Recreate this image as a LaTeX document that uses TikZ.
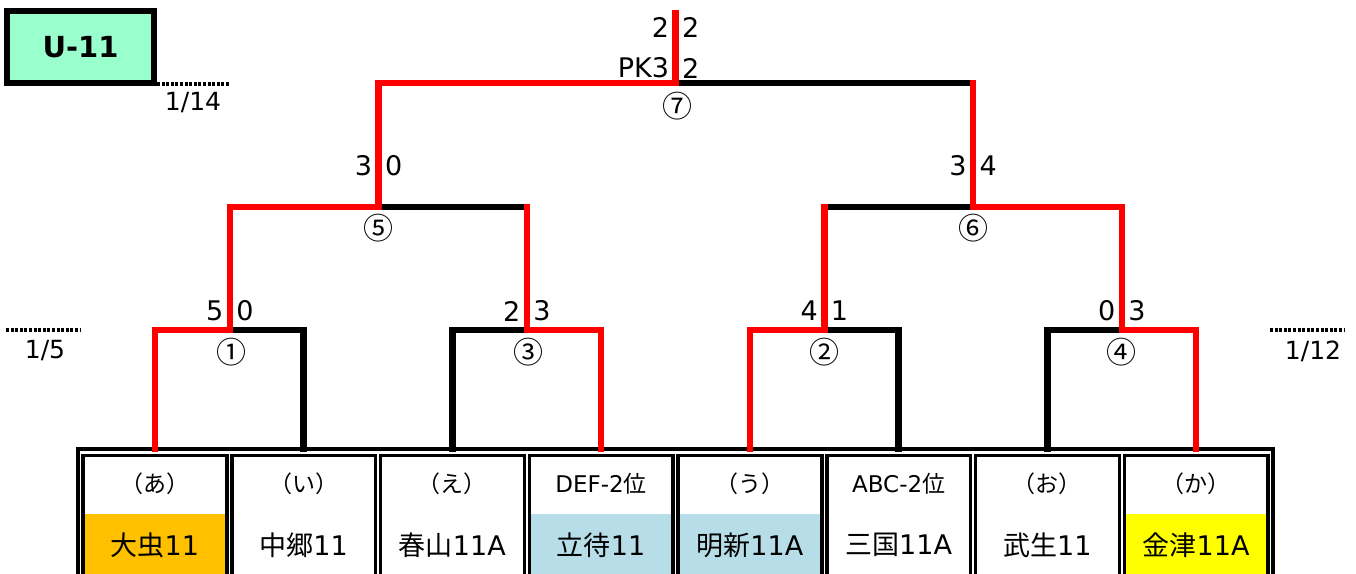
\documentclass[tikz,border=0pt]{standalone}
\usepackage{fontspec}
\setmainfont{DejaVu Sans}
\newfontfamily\jp{Noto Sans CJK JP}
\definecolor{mint}{HTML}{99FFCC}
\definecolor{orng}{HTML}{FFC000}
\definecolor{lblue}{HTML}{B7DEE8}
\definecolor{yel}{HTML}{FFFF00}
\begin{document}
\begin{tikzpicture}[x=1pt,y=-1pt,
  every node/.style={inner sep=0pt, outer sep=0pt},
  wline/.style={draw=red, line width=6.5pt, line cap=rect, line join=miter},
  lline/.style={draw=black, line width=6.5pt, line cap=rect, line join=miter},
  score/.style={font=\fontsize{27}{31}\selectfont},
  mnum/.style={font=\jp\fontsize{30}{34}\selectfont},
  datetxt/.style={font=\fontsize{25}{29}\selectfont},
  dateline/.style={draw=black, line width=3.5pt, dash pattern=on 3pt off 1.6pt},
  cell/.style={draw=black, line width=3.5pt, minimum width=143.75pt, minimum height=125pt},
  lab/.style={font=\fontsize{23}{27}\selectfont},
  team/.style={font=\fontsize{27}{31}\selectfont},
]
\useasboundingbox (0,0) rectangle (1356,573);

% title box
\node[draw=black, line width=6pt, fill=mint, minimum width=147pt, minimum height=72pt,
      font=\bfseries\fontsize{29}{33}\selectfont] (u11) at (80.5,47) {U-11};

% dates
\coordinate (d1b) at (230,84);
\draw[dateline] (u11.south east) ++(3,1) coordinate (d1a) -- (d1b);
\node[datetxt] (dt1) at (193,103) {1/14};
\coordinate (d2a) at (6,330); \coordinate (d2b) at (80,330);
\draw[dateline] (d2a) -- (d2b);
\node[datetxt] (dt2) at (45,351) {1/5};
\coordinate (d3a) at (1270,330); \coordinate (d3b) at (1344,330);
\draw[dateline] (d3a) -- (d3b);
\node[datetxt] (dt3) at (1313,351) {1/12};

% colored fills
\fill[orng] (81,514) rectangle (226.75,580);
\fill[lblue] (529.25,514) rectangle (673,580);
\fill[lblue] (678,514) rectangle (821.75,580);
\fill[yel] (1124.25,514) rectangle (1268,580);

% outer frame
\draw[line width=3.5pt] (78,449) rectangle (1273,582);

% cells
\foreach \i/\top/\name in {
  0/{\jp （あ）}/{{\jp 大虫}11},
  1/{\jp （い）}/{{\jp 中郷}11},
  2/{\jp （え）}/{{\jp 春山}11A},
  3/{DEF-2{\jp 位}}/{{\jp 立待}11},
  4/{\jp （う）}/{{\jp 明新}11A},
  5/{ABC-2{\jp 位}}/{{\jp 三国}11A},
  6/{\jp （お）}/{{\jp 武生}11},
  7/{\jp （か）}/{{\jp 金津}11A}} {
  \pgfmathsetmacro{\cx}{154.875+148.75*\i}
  \node[cell] (c\i) at (\cx,518) {};
  \node[lab] (l\i) at (\cx,484) {\top};
  \node[team] (n\i) at (\cx,545) {\name};
  \coordinate (a\i) at (\cx,449);
}

% joints
\coordinate (j1) at (229.75,330);
\coordinate (j3) at (526.75,330);
\coordinate (j2) at (824.25,330);
\coordinate (j4) at (1121.75,330);
\coordinate (j5) at (378.5,207);
\coordinate (j6) at (973,207);
\coordinate (j7) at (675.5,83);
\coordinate (top) at (675.5,13);

% losing lines
\draw[lline] (j1) -| (a1);
\draw[lline] (a2) |- (j3);
\draw[lline] (j2) -| (a5);
\draw[lline] (a6) |- (j4);
\draw[lline] (j5) -- (j3 |- j5);
\draw[lline] (j2 |- j6) -- (j6);
\draw[lline] (j7) -- (j6 |- j7);

% winning lines
\draw[wline] (a0) |- (j1) -- (j1 |- j5) -- (j5) -- (j5 |- j7) -- (j7) -- (top);
\draw[wline] (a3) |- (j3) -- (j3 |- j5);
\draw[wline] (a4) |- (j2) -- (j2 |- j6);
\draw[wline] (a7) |- (j4) -- (j4 |- j6) -- (j6) -- (j6 |- j7);

% match numbers
\node[mnum] (m7) at (677,106) {⑦};
\node[mnum] (m5) at (378,228) {⑤};
\node[mnum] (m6) at (973,228) {⑥};
\node[mnum] (m1) at (231,352) {①};
\node[mnum] (m3) at (528,352) {③};
\node[mnum] (m2) at (824,352) {②};
\node[mnum] (m4) at (1121,352) {④};

% scores
\node[score, anchor=east] (s7a) at (669,27) {2};
\node[score, anchor=west] (s7b) at (682,27) {2};
\node[score, anchor=east] (s7c) at (669,68) {PK3};
\node[score, anchor=west] (s7d) at (682,68) {2};
\node[score, anchor=east] (s5a) at (372,166) {3};
\node[score, anchor=west] (s5b) at (385,166) {0};
\node[score, anchor=east] (s6a) at (966.5,166) {3};
\node[score, anchor=west] (s6b) at (979.5,166) {4};
\node[score, anchor=east] (s1a) at (223.25,311) {5};
\node[score, anchor=west] (s1b) at (236.25,311) {0};
\node[score, anchor=east] (s3a) at (520.25,311) {2};
\node[score, anchor=west] (s3b) at (533.25,311) {3};
\node[score, anchor=east] (s2a) at (817.75,311) {4};
\node[score, anchor=west] (s2b) at (830.75,311) {1};
\node[score, anchor=east] (s4a) at (1115.25,311) {0};
\node[score, anchor=west] (s4b) at (1128.25,311) {3};
\end{tikzpicture}
\end{document}
